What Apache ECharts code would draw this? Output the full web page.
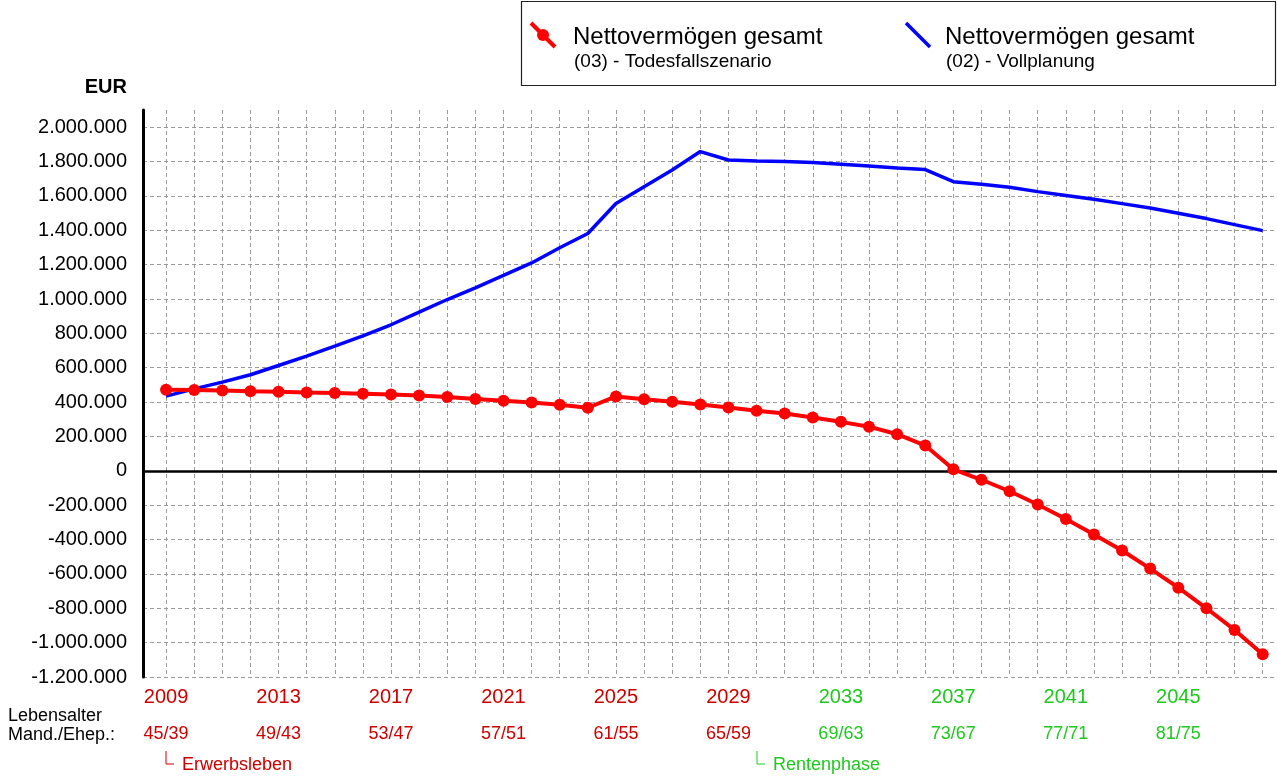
<!DOCTYPE html>
<html>
<head>
<meta charset="utf-8">
<script src="https://cdn.jsdelivr.net/npm/echarts@6/dist/echarts.min.js"></script>
<style>
html,body{margin:0;padding:0;background:#fff;}
#c{width:1277px;height:776px;}
</style>
</head>
<body>
<div id="c"></div>
<script>
// ---- data ----
const years = [2009,2010,2011,2012,2013,2014,2015,2016,2017,2018,2019,2020,2021,2022,2023,2024,2025,2026,2027,2028,
               2029,2030,2031,2032,2033,2034,2035,2036,2037,2038,2039,2040,2041,2042,2043,2044,2045,2046,2047,2048];
// Nettovermögen gesamt (03) - Todesfallszenario
const deathScenario = [472000,470000,467000,463000,460000,456000,453000,449000,444000,438000,
                       430000,418000,408000,397000,384000,367000,433000,416000,402000,386000,
                       369000,350000,333000,310000,285000,257000,213000,147000,9000,-52000,
                       -119000,-196000,-280000,-371000,-464000,-569000,-680000,-800000,-926000,-1068000];
// Nettovermögen gesamt (02) - Vollplanung
const fullPlanning = [435000,477000,516000,559000,613000,668000,726000,785000,850000,924000,
                      997000,1065000,1137000,1210000,1298000,1381000,1556000,1654000,1751000,1858000,
                      1809000,1803000,1800000,1794000,1784000,1774000,1763000,1753000,1683000,1668000,
                      1650000,1625000,1603000,1580000,1555000,1530000,1499000,1468000,1433000,1398000];
const tickYears = [2009,2013,2017,2021,2025,2029,2033,2037,2041,2045];
const ageLabels = ['45/39','49/43','53/47','57/51','61/55','65/59','69/63','73/67','77/71','81/75'];
const retirementYear = 2030;
const seriesNames = ['Nettovermögen gesamt', 'Nettovermögen gesamt'];
const seriesSubNames = ['(03) - Todesfallszenario', '(02) - Vollplanung'];

const RED_TXT = '#cc0000';
const GREEN_TXT = '#1ec81e';
const FONT = "'Liberation Sans', Arial, sans-serif";

function fmtDE(v){
  const s = String(Math.abs(v)).replace(/\B(?=(\d{3})+(?!\d))/g, '.');
  return (v < 0 ? '-' : '') + s;
}

const chart = echarts.init(document.getElementById('c'), null, {renderer:'canvas'});
const option = {
  animation: false,
  backgroundColor: '#fff',
  textStyle: {fontFamily: FONT},
  grid: {left: 143, right: 0, top: 110, bottom: 99, containLabel: false, outerBoundsMode: 'none'},
  xAxis: {
    type: 'value',
    min: 2008.18,
    max: 2048.51,
    axisLine: {show: false, onZero: false},
    axisTick: {show: false, customValues: years},
    splitLine: {show: true, lineStyle: {color: '#9a9a9a', width: 1, type: [4, 3]}},
    axisLabel: {
      customValues: tickYears,
      margin: 8,
      formatter: function(v){
        const i = tickYears.indexOf(Math.round(v));
        const c = v < retirementYear ? 'r' : 'g';
        return '{' + c + 'y|' + Math.round(v) + '}\n{' + c + 'a|' + ageLabels[i] + '}';
      },
      rich: {
        ry: {color: RED_TXT, fontSize: 20, lineHeight: 24, fontFamily: FONT},
        ra: {color: RED_TXT, fontSize: 18, lineHeight: 50, fontFamily: FONT},
        gy: {color: GREEN_TXT, fontSize: 20, lineHeight: 24, fontFamily: FONT},
        ga: {color: GREEN_TXT, fontSize: 18, lineHeight: 50, fontFamily: FONT}
      }
    }
  },
  yAxis: {
    type: 'value',
    min: -1200000,
    max: 2100000,
    interval: 200000,
    name: 'EUR',
    nameLocation: 'end',
    nameGap: 13,
    nameTextStyle: {fontSize: 20, fontWeight: 'bold', color: '#000', align: 'right', verticalAlign: 'bottom', padding: [0, 16, 0, 0], fontFamily: FONT},
    axisLine: {show: true, onZero: false, lineStyle: {color: '#000', width: 3}},
    axisTick: {show: false},
    axisLabel: {showMaxLabel: false, margin: 16, fontSize: 20, color: '#000', fontFamily: FONT, formatter: fmtDE},
    splitLine: {show: true, showMaxLine: false, lineStyle: {color: '#9a9a9a', width: 1, type: [4, 3]}}
  },
  series: [
    {
      name: seriesSubNames[1],
      type: 'line',
      data: years.map((y, i) => [y, fullPlanning[i]]),
      showSymbol: false,
      symbol: 'none',
      lineStyle: {color: '#0000ff', width: 3.5},
      itemStyle: {color: '#0000ff'},
      z: 3
    },
    {
      name: seriesSubNames[0],
      type: 'line',
      data: years.map((y, i) => [y, deathScenario[i]]),
      symbol: 'circle',
      symbolSize: 12,
      lineStyle: {color: '#ff0000', width: 4},
      itemStyle: {color: '#ff0000'},
      z: 4,
      markLine: {
        silent: true,
        symbol: ['none', 'none'],
        label: {show: false},
        lineStyle: {color: '#000', width: 2.5, type: 'solid'},
        data: [{yAxis: 0}],
        z: 2
      }
    }
  ]
};
chart.setOption(option);

const pStart = chart.convertToPixel({gridIndex: 0}, [years[0], 0]);
const pRet = chart.convertToPixel({gridIndex: 0}, [retirementYear, 0]);

function bracket(x, color, label){
  return [
    {type: 'polyline', shape: {points: [[x, 751], [x, 764], [x + 8, 764]]}, style: {stroke: color, lineWidth: 1, fill: null}},
    {type: 'text', x: x + 16, y: 765, style: {text: label, fontSize: 18, fontFamily: FONT, fill: color, align: 'left', verticalAlign: 'middle'}}
  ];
}

chart.setOption({
  graphic: [
    {type: 'rect', shape: {x: 521.5, y: 1.5, width: 754, height: 84}, style: {fill: '#fff', stroke: '#222', lineWidth: 1.2}},
    {type: 'line', shape: {x1: 531, y1: 23, x2: 555, y2: 47}, style: {stroke: '#ff0000', lineWidth: 4}},
    {type: 'circle', shape: {cx: 543, cy: 35, r: 6}, style: {fill: '#ff0000'}},
    {type: 'text', x: 573, y: 37, style: {text: seriesNames[0], fontSize: 24, fontFamily: FONT, fill: '#000', align: 'left', verticalAlign: 'middle'}},
    {type: 'text', x: 574, y: 62, style: {text: seriesSubNames[0], fontSize: 19, fontFamily: FONT, fill: '#000', align: 'left', verticalAlign: 'middle'}},
    {type: 'line', shape: {x1: 906, y1: 23, x2: 930, y2: 47}, style: {stroke: '#0000ff', lineWidth: 3.5}},
    {type: 'text', x: 945, y: 37, style: {text: seriesNames[1], fontSize: 24, fontFamily: FONT, fill: '#000', align: 'left', verticalAlign: 'middle'}},
    {type: 'text', x: 946, y: 62, style: {text: seriesSubNames[1], fontSize: 19, fontFamily: FONT, fill: '#000', align: 'left', verticalAlign: 'middle'}},
    {type: 'text', x: 8, y: 716, style: {text: 'Lebensalter', fontSize: 18, fontFamily: FONT, fill: '#000', align: 'left', verticalAlign: 'middle'}},
    {type: 'text', x: 8, y: 735, style: {text: 'Mand./Ehep.:', fontSize: 18, fontFamily: FONT, fill: '#000', align: 'left', verticalAlign: 'middle'}}
  ].concat(bracket(Math.round(pStart[0]), RED_TXT, 'Erwerbsleben'))
   .concat(bracket(Math.round(pRet[0]), GREEN_TXT, 'Rentenphase'))
});
</script>
</body>
</html>
